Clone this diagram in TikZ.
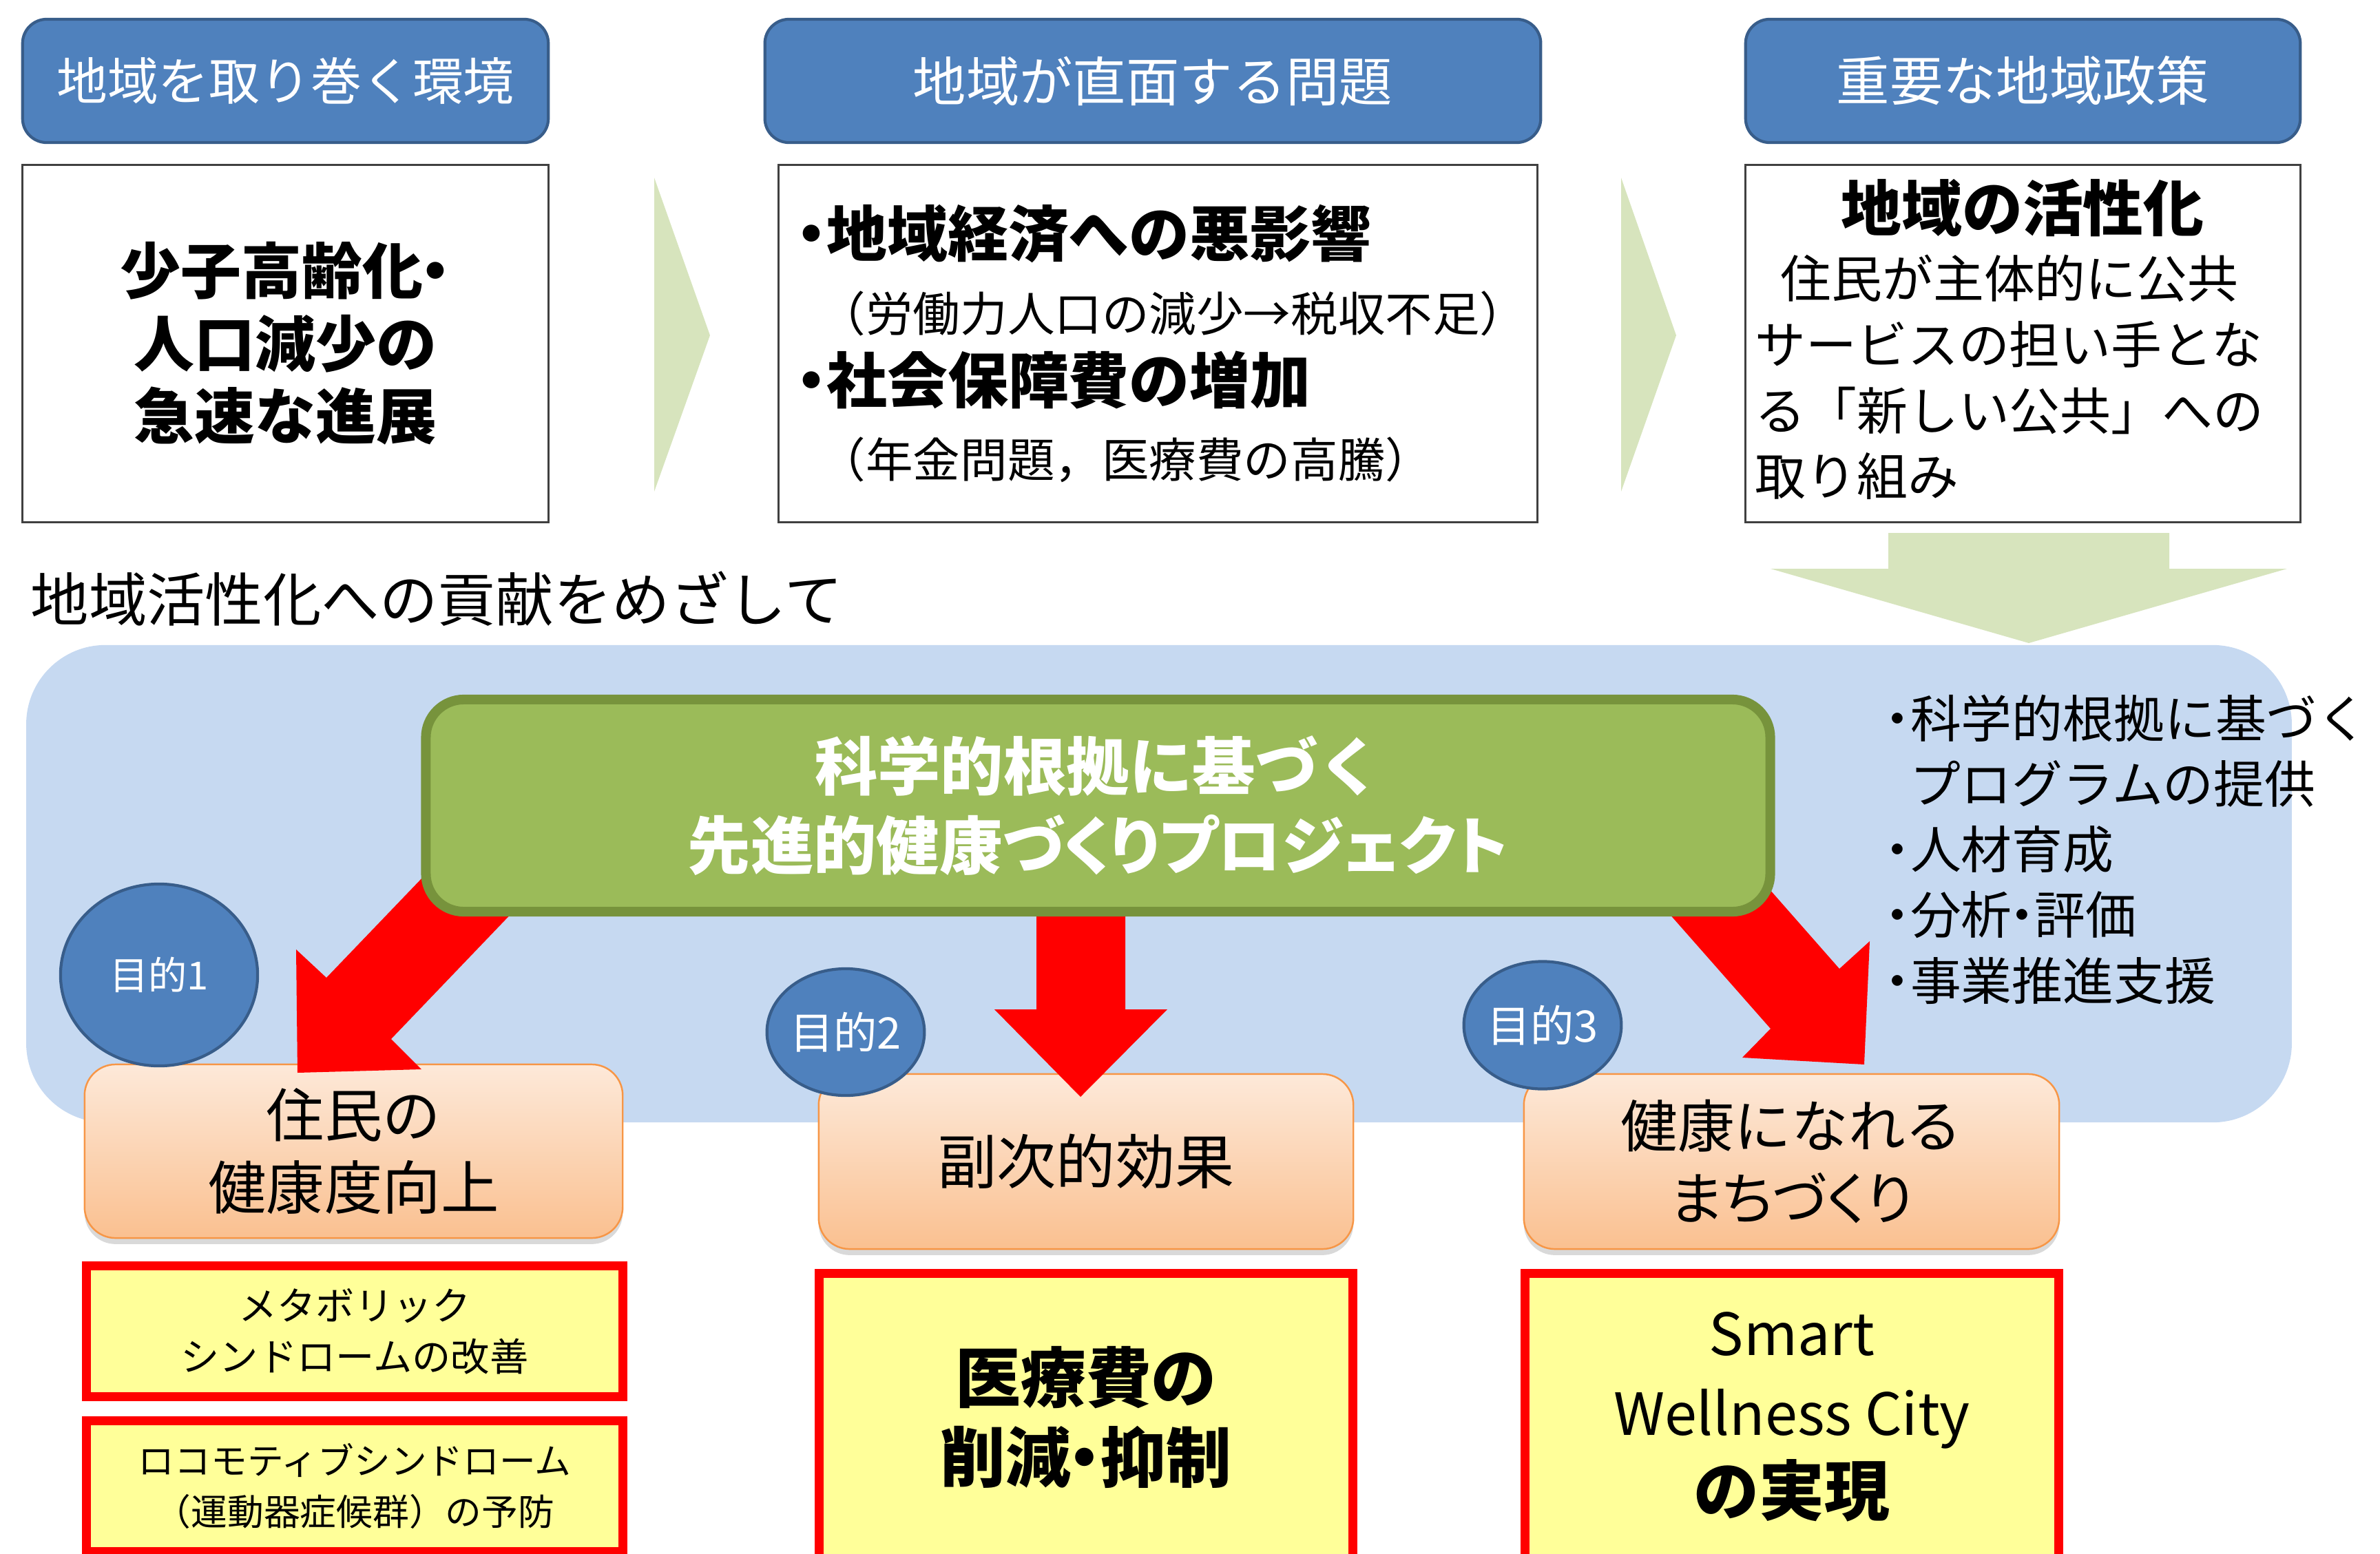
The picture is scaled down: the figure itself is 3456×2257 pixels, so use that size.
\documentclass[tikz,border=0pt]{standalone}
\usepackage{fontspec}
\setmainfont{Noto Sans CJK JP}
\newfontfamily\paltfont{Noto Sans CJK JP}[RawFeature=+palt]
\usetikzlibrary{shapes.geometric,shadows}
\definecolor{hdrblue}{HTML}{4F81BD}
\definecolor{hdrborder}{HTML}{385D8A}
\definecolor{lightgreen}{HTML}{D7E4BD}
\definecolor{bgblue}{HTML}{C6D9F1}
\definecolor{grfill}{HTML}{9BBB59}
\definecolor{grborder}{HTML}{77933C}
\definecolor{peachtop}{HTML}{FDE9D9}
\definecolor{peachbot}{HTML}{FAC090}
\definecolor{peachborder}{HTML}{F79646}
\definecolor{yel}{HTML}{FFFF99}
\newcommand\myfs[2]{\fontsize{#1}{#2}\selectfont}
\newcommand\ndot{\kern-0.3em・\kern-0.25em}
\begin{document}
\begin{tikzpicture}[x=0.01cm,y=-0.01cm,
  hdr/.style={draw=hdrborder, line width=1.2pt, fill=hdrblue, rounded corners=0.35cm, text=white, font=\myfs{22pt}{26pt}},
  cbox/.style={draw=black!75, line width=0.9pt, fill=white},
  chev/.style={fill=lightgreen},
  peach/.style={draw=peachborder, line width=0.7pt, rounded corners=0.45cm, top color=peachtop, bottom color=peachbot, drop shadow={shadow xshift=0pt, shadow yshift=-2.5pt, opacity=0.3}, font=\myfs{24pt}{30pt}, align=center},
  ybox/.style={draw=red, line width=3.7pt, fill=yel, align=center},
  goal/.style={ellipse, draw=hdrborder, line width=1.2pt, fill=hdrblue, text=white, inner sep=0pt},
  redarrow/.style={fill=red},
  txt/.style={inner sep=0pt, align=left, anchor=west},
]
\useasboundingbox (0,0) rectangle (3456,2257);

% headers
\node[hdr, minimum width=7.63cm, minimum height=1.79cm, font=\myfs{21pt}{26pt}] (h1) at (414.5,117.5) {地域を取り巻く環境};
\node[hdr, minimum width=11.26cm, minimum height=1.79cm] (h2) at (1674,117.5) {地域が直面する問題};
\node[hdr, minimum width=8.05cm, minimum height=1.79cm] (h3) at (2937.5,117.5) {重要な地域政策};

% content boxes
\node[cbox, minimum width=7.63cm, minimum height=5.18cm, align=center, font=\myfs{25pt}{30pt}\bfseries] (c1) at (414.5,499) {少子高齢化\ndot\\人口減少の\\急速な進展};
\node[cbox, minimum width=11.01cm, minimum height=5.18cm] (c2) at (1681.5,499) {};
\node[cbox, minimum width=8.05cm, minimum height=5.18cm] (c3) at (2937.5,499) {};

% chevrons
\fill[chev] (950,258) -- (1031,487) -- (950,714) -- cycle;
\fill[chev] (2354,258) -- (2434,487) -- (2354,714) -- cycle;

% box 2 text
\node[txt, font=\myfs{25pt}{30pt}\bfseries] (c2a) at (1160,339) {\ndot 地域経済への悪影響};
\node[txt, font=\myfs{19.5pt}{24pt}] (c2b) at (1188,455) {（労働力人口の減少→税収不足）};
\node[txt, font=\myfs{25pt}{30pt}\bfseries] (c2c) at (1160,552) {\ndot 社会保障費の増加};
\node[txt, font=\myfs{19.5pt}{24pt}] (c2d) at (1188,668) {（年金問題，医療費の高騰）};

% box 3 text
\node[inner sep=0pt, font=\myfs{25pt}{30pt}\bfseries] (c3a) at (2937,302) {地域の活性化};
\node[txt, font=\myfs{21pt}{27.2pt}] (c3b) at (2548,548) {\hspace*{0.5em}住民が主体的に公共\\サービスの担い手とな\\る「新しい公共」への\\取り組み};

% heading
\node[txt, font=\myfs{24pt}{28pt}] (head) at (44,870) {地域活性化への貢献をめざして};

% blue background
\node[fill=bgblue, rounded corners=1.15cm, minimum width=32.88cm, minimum height=6.93cm] (bg) at (1683,1283.5) {};

% green down arrow
\fill[chev] (2742,774) -- (3150,774) -- (3150,826) -- (3321,826) -- (2946,934) -- (2571,826) -- (2742,826) -- cycle;

% right list
\node[txt, font=\myfs{21pt}{27.1pt}] (list) at (2740,1233.5) {\ndot 科学的根拠に基づく\\\hspace*{0.45em}プログラムの提供\\\ndot 人材育成\\\ndot 分析\ndot 評価\\\ndot 事業推進支援};

% peach boxes
\node[peach, minimum width=7.81cm, minimum height=2.52cm] (p1) at (513.5,1672) {住民の\\健康度向上};
\node[peach, minimum width=7.76cm, minimum height=2.54cm, font=\myfs{24.5pt}{30pt}] (p2) at (1577,1687) {副次的効果};
\node[peach, minimum width=7.77cm, minimum height=2.54cm, font=\myfs{23.5pt}{30pt}] (p3) at (2601.5,1687) {健康になれる\\{\paltfont まちづくり}};

% red arrows
\fill[redarrow] (685,1200) -- (474,1420) -- (430,1379) -- (432,1558) -- (612,1553) -- (568,1509) -- (864,1200) -- cycle;
\fill[redarrow] (1505,1250) -- (1505,1466) -- (1444,1466) -- (1569,1593) -- (1695,1466) -- (1634,1466) -- (1634,1250) -- cycle;
\fill[redarrow] (2312,1200) -- (2571,1494) -- (2530,1536) -- (2707,1546) -- (2715,1367) -- (2671,1407) -- (2489,1200) -- cycle;

% green project box
\node[draw=grborder, line width=4pt, fill=grfill, rounded corners=0.55cm, minimum width=19.51cm, minimum height=3.08cm, text=white, align=center, font=\myfs{26pt}{32.7pt}\bfseries] (proj) at (1594.5,1170) {科学的根拠に基づく\\{\paltfont 先進的健康づくりプロジェクト}};

% goal ellipses
\node[goal, minimum width=2.86cm, minimum height=2.64cm, font=\myfs{16pt}{18pt}] (g1) at (231,1416) {目的1};
\node[goal, minimum width=2.03cm, minimum height=1.84cm, font=\myfs{18pt}{20pt}] (g2) at (1228,1499) {目的2};
\node[goal, minimum width=2.05cm, minimum height=1.85cm, font=\myfs{18pt}{20pt}] (g3) at (2240,1489) {目的3};

% yellow boxes
\node[ybox, minimum width=7.79cm, minimum height=1.90cm, font=\myfs{16pt}{21pt}] (y1) at (515,1933.5) {メタボリック\\シンドロームの改善};
\node[ybox, minimum width=7.79cm, minimum height=1.90cm, font=\myfs{15pt}{21pt}] (y2) at (515,2158.5) {ロコモティブシンドローム\\（運動器症候群）の予防};
\node[ybox, minimum width=7.75cm, minimum height=4.17cm, font=\myfs{27pt}{33pt}\bfseries] (y3) at (1577,2058) {医療費の\\削減\ndot 抑制};
\node[ybox, minimum width=7.75cm, minimum height=4.17cm, font=\myfs{24pt}{33pt}] (y4) at (2602,2058) {Smart\\Wellness City\\{\myfs{27pt}{33pt}\bfseries の実現}};
\end{tikzpicture}
\end{document}
